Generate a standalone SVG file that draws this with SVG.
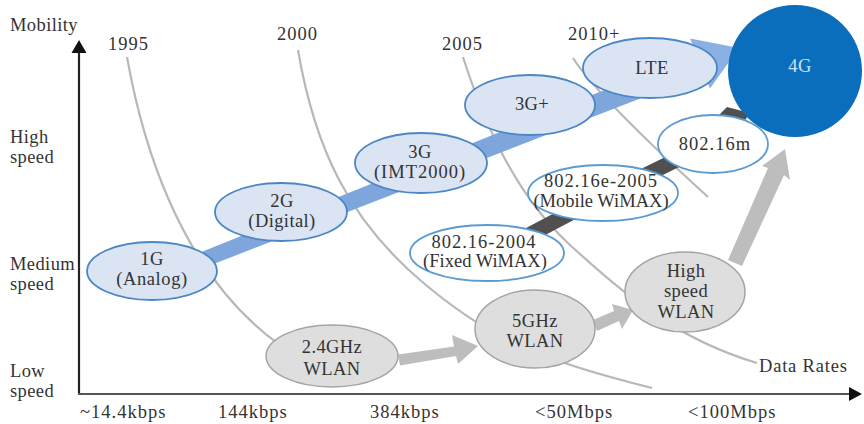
<svg xmlns="http://www.w3.org/2000/svg" width="864" height="424" viewBox="0 0 864 424" font-family="'Liberation Serif', 'DejaVu Serif', serif">
<style>
text{font-family:'Liberation Serif','DejaVu Serif',serif;font-size:18.5px;fill:#333;letter-spacing:0.4px}
.c{text-anchor:middle}
.n{letter-spacing:1px}
.w{letter-spacing:0px}
.curve{fill:none;stroke:#b8b8b8;stroke-width:2.2}
.blue{fill:#dae4f3;stroke:#4a87c4;stroke-width:1.8}
.white{fill:#ffffff;stroke:#5a9bd2;stroke-width:1.8}
.gray{fill:#dedede;stroke:#a4a4a4;stroke-width:1.5}
.garrow{fill:#bdbdbd}
.dark{fill:none;stroke:#505050;stroke-width:15}
</style>
<rect width="864" height="424" fill="#ffffff"/>
<g id="axes">
  <line x1="79" y1="394" x2="79" y2="52" stroke="#222" stroke-width="2.2"/>
  <polygon points="79,40 71.5,53 86.5,53" fill="#111"/>
  <line x1="78" y1="394" x2="850" y2="394" stroke="#555" stroke-width="2.2"/>
  <polygon points="862,394 849,387 849,401" fill="#111"/>
  <text x="10" y="31">Mobility</text>
  <text x="10" y="143">High</text>
  <text x="10" y="163">speed</text>
  <text x="10" y="270">Medium</text>
  <text x="10" y="290">speed</text>
  <text x="10" y="377">Low</text>
  <text x="10" y="397">speed</text>
  <text class="n" x="80" y="418">~14.4kbps</text>
  <text class="n" x="218" y="418">144kbps</text>
  <text class="n" x="370" y="418">384kbps</text>
  <text class="n" x="535" y="418">&lt;50Mbps</text>
  <text class="n" x="688" y="418">&lt;100Mbps</text>
  <text x="759" y="372" style="letter-spacing:0.8px">Data Rates</text>
</g>
<g id="years">
  <path class="curve" d="M127,57 C140,130 175,270 280,345"/>
  <path class="curve" d="M298,50 C315,150 350,220 420,280 S540,360 652,388"/>
  <path class="curve" d="M463,57 C480,110 510,190 570,245 S680,340 757,363"/>
  <path class="curve" d="M573,58 C590,85 640,135 708,197"/>
  <text class="n" x="108" y="50">1995</text>
  <text class="n" x="277" y="40">2000</text>
  <text class="n" x="442" y="50">2005</text>
  <text class="n" x="568" y="40">2010+</text>
</g>
<g id="connectors">
  <polygon points="162.8,283.7 157.2,269.8 696,53.3 704,73.7" fill="#7ea6dd"/>
  <polygon points="709.9,88.6 690.1,38.4 739,48" fill="#8bb0e4"/>
  <polyline class="dark" points="487,257 605,195 713,142"/>
  <polygon points="718,116 727,107 750,113 741,126" fill="#505050"/>
  <polygon class="garrow" points="398,354.5 454,346.5 452,335 478,346 458,364 456,356 400,365.5"/>
  <polygon class="garrow" points="593,320 614,311 612,304 633,310 622,329 619,321 597,331"/>
  <polygon class="garrow" points="728,260 768,168 762,166 785,149 790,180 784,175 742,266"/>
</g>
<g id="n1G"><ellipse class="blue" cx="152" cy="271" rx="65" ry="29"/><text class="c" x="152" y="265">1G</text><text class="c" x="152" y="285" style="letter-spacing:0.6px">(Analog)</text></g>
<g id="n2G"><ellipse class="blue" cx="281" cy="212" rx="66" ry="29"/><text class="c" x="282" y="207">2G</text><text class="c" x="282" y="227">(Digital)</text></g>
<g id="n3G"><ellipse class="blue" cx="421" cy="163" rx="66" ry="30"/><text class="c" x="420" y="158">3G</text><text class="c n" x="420" y="178">(IMT2000)</text></g>
<g id="n3Gplus"><ellipse class="blue" cx="530" cy="105" rx="65" ry="30"/><text class="c" x="532" y="110">3G+</text></g>
<g id="nLTE"><ellipse class="blue" cx="650" cy="68" rx="67" ry="30"/><text class="c" x="652" y="74">LTE</text></g>
<g id="n4G"><ellipse cx="795" cy="71" rx="67" ry="66" fill="#0a6ebd"/><text class="c" x="800" y="72" style="fill:#d0e2f3">4G</text></g>
<g id="n80216m"><ellipse class="white" cx="713" cy="144" rx="55" ry="29"/><text class="c n" x="715" y="150">802.16m</text></g>
<g id="n80216e"><ellipse class="white" cx="603" cy="193" rx="75" ry="28"/><text class="c n" x="601" y="187">802.16e-2005</text><text class="c w" x="601" y="207">(Mobile WiMAX)</text></g>
<g id="n80216"><ellipse class="white" cx="487" cy="253" rx="77" ry="28"/><text class="c n" x="484" y="248">802.16-2004</text><text class="c w" x="485" y="267">(Fixed WiMAX)</text></g>
<g id="n24GHz"><ellipse class="gray" cx="332" cy="356" rx="66" ry="31"/><text class="c" x="332" y="353">2.4GHz</text><text class="c" x="332" y="375">WLAN</text></g>
<g id="n5GHz"><ellipse class="gray" cx="535" cy="329" rx="60" ry="39"/><text class="c" x="535" y="327">5GHz</text><text class="c" x="535" y="347">WLAN</text></g>
<g id="nHSWLAN"><ellipse class="gray" cx="685" cy="292" rx="60" ry="40"/><text class="c" x="686" y="277">High</text><text class="c" x="686" y="297">speed</text><text class="c" x="686" y="318">WLAN</text></g>
</svg>
